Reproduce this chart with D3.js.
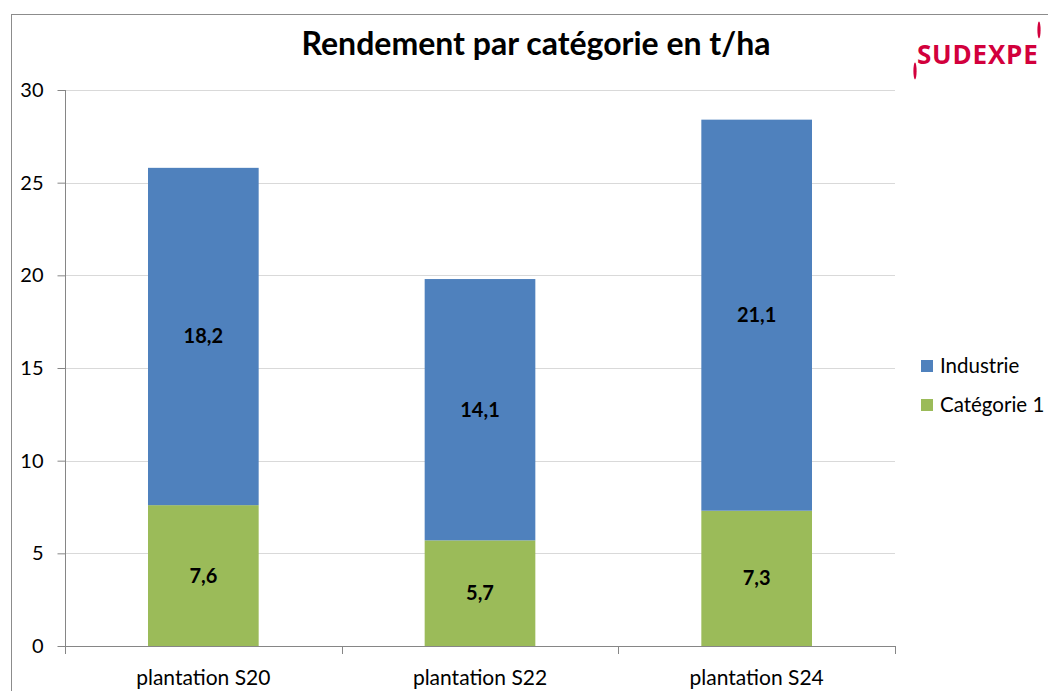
<!DOCTYPE html>
<html><head><meta charset="utf-8">
<script src="https://cdn.jsdelivr.net/npm/d3@7"></script>
<style>body{margin:0;background:#fff;} svg{display:block;}</style>
</head><body>
<svg id="c" width="1048" height="691"></svg>
<script>
const categories = ["plantation S20", "plantation S22", "plantation S24"];
const categorie1 = [7.6, 5.7, 7.3];
const industrie = [18.2, 14.1, 21.1];
const seriesNames = ["Industrie", "Catégorie 1"];
const yTicks = [0, 5, 10, 15, 20, 25, 30];
const colors = {"Catégorie 1": "#9bbb59", "Industrie": "#4f81bd"};
const fmt = v => String(v).replace(".", ",");

const svg = d3.select("#c");
const font = "Lato, 'Open Sans', sans-serif";

// outer frame
svg.append("rect").attr("x", 11.5).attr("y", 14.5).attr("width", 1100).attr("height", 700)
  .attr("fill", "none").attr("stroke", "#8c8c8c").attr("stroke-width", 1);

const L = 65, R = 895, T = 90, B = 646;
const x = d3.scaleBand().domain(categories).range([L, R]).paddingInner(0).paddingOuter(0);
const y = d3.scaleLinear().domain([0, 30]).range([B, T]);

// gridlines
svg.append("g").selectAll("line").data(yTicks.filter(t => t > 0)).join("line")
  .attr("x1", L).attr("x2", R).attr("y1", d => Math.round(y(d)) + 0.5).attr("y2", d => Math.round(y(d)) + 0.5)
  .attr("stroke", "#d9d9d9").attr("stroke-width", 1);

// stacked data
const rows = categories.map((c, i) => ({cat: c, "Catégorie 1": categorie1[i], "Industrie": industrie[i]}));
const stack = d3.stack().keys(["Catégorie 1", "Industrie"])(rows);
const bw = x.bandwidth() * 0.4;

stack.forEach(layer => {
  const g = svg.append("g");
  g.selectAll("rect").data(layer).join("rect")
    .attr("x", d => x(d.data.cat) + (x.bandwidth() - bw) / 2)
    .attr("width", bw)
    .attr("y", d => y(d[1]))
    .attr("height", d => y(d[0]) - y(d[1]))
    .attr("fill", colors[layer.key]);
  g.selectAll("text").data(layer).join("text")
    .attr("x", d => x(d.data.cat) + x.bandwidth() / 2)
    .attr("y", d => (y(d[0]) + y(d[1])) / 2)
    .attr("dy", "0.35em")
    .attr("text-anchor", "middle")
    .attr("font-family", font).attr("font-weight", "bold").attr("font-size", 20)
    .attr("fill", "#000")
    .text(d => fmt(d.data[layer.key]));
});

// y axis
const yAxis = svg.append("g").attr("transform", `translate(${L + 0.5},0)`)
  .call(d3.axisLeft(y).tickValues(yTicks).tickSize(8).tickPadding(14).tickFormat(d => d));
yAxis.select(".domain").attr("stroke", "#868686").attr("d", `M0,${T}V${B}`);
yAxis.selectAll(".tick line").attr("stroke", "#868686");
yAxis.selectAll(".tick text").attr("font-family", font).attr("font-size", 20).attr("fill", "#000");

// x axis
const xAxis = svg.append("g").attr("transform", `translate(0,${B + 0.5})`)
  .call(d3.axisBottom(x).tickSize(0).tickPadding(24));
xAxis.select(".domain").attr("stroke", "#868686").attr("d", `M${L},0H${R}`);
xAxis.selectAll(".tick text").attr("font-family", font).attr("font-size", 21).attr("fill", "#000");
// category boundary ticks
const bounds = [0, 1, 2, 3].map(i => L + i * x.step());
svg.append("g").selectAll("line").data(bounds).join("line")
  .attr("x1", d => Math.round(d) + 0.5).attr("x2", d => Math.round(d) + 0.5)
  .attr("y1", B).attr("y2", B + 8).attr("stroke", "#868686");

// title
svg.append("text").attr("x", 536).attr("y", 55).attr("text-anchor", "middle")
  .attr("font-family", font).attr("font-weight", "bold").attr("font-size", 32).attr("fill", "#000")
  .text("Rendement par catégorie en t/ha");

// legend
const leg = svg.append("g");
seriesNames.forEach((s, i) => {
  const yy = 366 + i * 39;
  leg.append("rect").attr("x", 921).attr("y", yy - 6).attr("width", 12).attr("height", 12).attr("fill", colors[s]);
  leg.append("text").attr("x", 940).attr("y", yy).attr("dy", "0.35em")
    .attr("font-family", font).attr("font-size", 20.5).attr("fill", "#000").text(s);
});

// logo
const logo = svg.append("g");
logo.append("text").attr("x", 917).attr("y", 64).attr("font-family", "'Open Sans', Lato, sans-serif")
  .attr("font-weight", "bold").attr("font-size", 26).attr("letter-spacing", 0.8).attr("fill", "#d2003c").text("SUDEXPE");
logo.append("ellipse").attr("cx", 1039).attr("cy", 30).attr("rx", 1.6).attr("ry", 8.5).attr("fill", "#d2003c");
logo.append("ellipse").attr("cx", 915).attr("cy", 71).attr("rx", 1.6).attr("ry", 8.5).attr("fill", "#d2003c");
</script>
</body></html>
